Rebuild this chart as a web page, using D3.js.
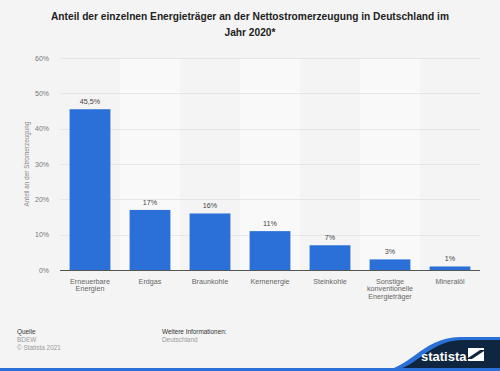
<!DOCTYPE html>
<html>
<head>
	<meta charset="utf-8">
	<title></title>
	<script src="https://d3js.org/d3.v7.min.js"></script>
	<style>
		body { margin: 0; background: #f4f4f4; }
		svg { display: block; font-family: "Liberation Sans", Arial, sans-serif; }
		.axis .domain { display: none; }
		.axis text { fill: #777; font-size: 7px; }
	</style>
</head>
<body>
	<svg width="500" height="371"></svg>
<script type="text/javascript">

	var categories = [["Erneuerbare", "Energien"], ["Erdgas"], ["Braunkohle"], ["Kernenergie"], ["Steinkohle"], ["Sonstige", "konventionelle", "Energieträger"], ["Mineralöl"]];
	var values = [45.5, 17, 16, 11, 7, 3, 1];
	var valueLabels = ["45,5%", "17%", "16%", "11%", "7%", "3%", "1%"];
	var yTicks = [0, 10, 20, 30, 40, 50, 60];

	var svg = d3.select("svg");
	const margin = {top: 58, right: 20, bottom: 101, left: 60};
	const width = +svg.attr("width") - margin.left - margin.right;
	const height = +svg.attr("height") - margin.top - margin.bottom;

	svg.append("rect").attr("width", 500).attr("height", 371).attr("fill", "#f4f4f4");

	// title
	var title = svg.append("text")
		.attr("text-anchor", "middle")
		.attr("font-size", 10.2)
		.attr("font-weight", "bold")
		.attr("fill", "#222");
	title.append("tspan").attr("x", 250).attr("y", 20).text("Anteil der einzelnen Energieträger an der Nettostromerzeugung in Deutschland im");
	title.append("tspan").attr("x", 250).attr("y", 36).text("Jahr 2020*");

	const g = svg.append("g").attr("transform", "translate(" + margin.left + "," + margin.top + ")");

	var x = d3.scaleBand()
		.domain(d3.range(categories.length))
		.range([0, width])
		.paddingInner(0.32)
		.paddingOuter(0.16);
	var band = d3.scaleBand().domain(d3.range(categories.length)).range([0, width]);
	var y = d3.scaleLinear().domain([0, 60]).range([height, 0]);

	// alternating column shading
	g.append("g").selectAll("rect")
		.data(d3.range(categories.length).filter(function(i) { return i % 2 == 1; }))
		.enter().append("rect")
		.attr("x", function(i) { return band(i); })
		.attr("y", 0)
		.attr("width", band.bandwidth())
		.attr("height", height)
		.attr("fill", "#f9f9f9");

	// grid
	g.append("g").selectAll("line")
		.data(yTicks.slice(1))
		.enter().append("line")
		.attr("x1", 0).attr("x2", width)
		.attr("y1", function(d) { return Math.round(y(d)) + 0.5; })
		.attr("y2", function(d) { return Math.round(y(d)) + 0.5; })
		.attr("stroke", "#e6e6e6")
		.attr("stroke-width", 1);

	const yAxis = g.append("g")
		.attr("class", "axis")
		.call(d3.axisLeft(y).tickValues(yTicks).tickSize(0).tickPadding(11).tickFormat(function(d) { return d + "%"; }));

	g.selectAll(".bar")
		.data(values)
		.enter().append("rect")
		.attr("class", "bar")
		.attr("x", function(d, i) { return x(i); })
		.attr("y", function(d) { return y(d); })
		.attr("width", x.bandwidth())
		.attr("height", function(d) { return height - y(d); })
		.attr("fill", "#2a70d8");

	g.selectAll(".val")
		.data(values)
		.enter().append("text")
		.attr("class", "val")
		.attr("x", function(d, i) { return x(i) + x.bandwidth() / 2; })
		.attr("y", function(d) { return y(d) - 5; })
		.attr("text-anchor", "middle")
		.attr("font-size", 7.2)
		.attr("fill", "#444")
		.text(function(d, i) { return valueLabels[i]; });

	// baseline
	g.append("line")
		.attr("x1", 0).attr("x2", width)
		.attr("y1", height + 0.5).attr("y2", height + 0.5)
		.attr("stroke", "#555").attr("stroke-width", 1);

	// category labels
	var cat = g.append("g").selectAll("text")
		.data(categories)
		.enter().append("text")
		.attr("text-anchor", "middle")
		.attr("font-size", 7.2)
		.attr("fill", "#666");
	cat.selectAll("tspan")
		.data(function(d, i) { return d.map(function(t) { return {t: t, i: i}; }); })
		.enter().append("tspan")
		.attr("x", function(d) { return x(d.i) + x.bandwidth() / 2; })
		.attr("y", function(d, j) { return height + 13.5 + j * 7.6; })
		.text(function(d) { return d.t; });

	// y axis title
	svg.append("text")
		.attr("transform", "translate(29," + (margin.top + height / 2) + ") rotate(-90)")
		.attr("text-anchor", "middle")
		.attr("font-size", 6.4)
		.attr("fill", "#888")
		.text("Anteil an der Stromerzeugung");

	// footer
	var foot = svg.append("g").attr("font-size", 6.4);
	foot.append("text").attr("x", 17).attr("y", 334).attr("fill", "#333").text("Quelle");
	foot.append("text").attr("x", 17).attr("y", 342).attr("fill", "#999").text("BDEW");
	foot.append("text").attr("x", 17).attr("y", 350).attr("fill", "#999").text("© Statista 2021");
	foot.append("text").attr("x", 162).attr("y", 334).attr("fill", "#333").text("Weitere Informationen:");
	foot.append("text").attr("x", 162).attr("y", 342).attr("fill", "#999").text("Deutschland");

	// logo
	svg.append("path")
		.attr("d", "M378,371 C410,371 420,338 460,337 L500,337 L500,371 Z")
		.attr("fill", "#2a70d8");
	svg.append("path")
		.attr("d", "M388,371 C416,371 426,341 462,340 L500,340 L500,371 Z")
		.attr("fill", "#0f2640");
	svg.append("rect").attr("x", 0).attr("y", 368).attr("width", 500).attr("height", 3).attr("fill", "#2a70d8");
	svg.append("text")
		.attr("x", 421).attr("y", 361)
		.attr("font-size", 13).attr("font-weight", "bold")
		.attr("fill", "#fff")
		.text("statista");
	svg.append("path")
		.attr("d", "M468,348 L484,348 L484,361 L468,361 Z")
		.attr("fill", "#fff");
	svg.append("path")
		.attr("d", "M468,358 L480,350 L484,350 L484,351 L472,359 L468,359 Z")
		.attr("fill", "#0f2640");

</script>
</body>
</html>
